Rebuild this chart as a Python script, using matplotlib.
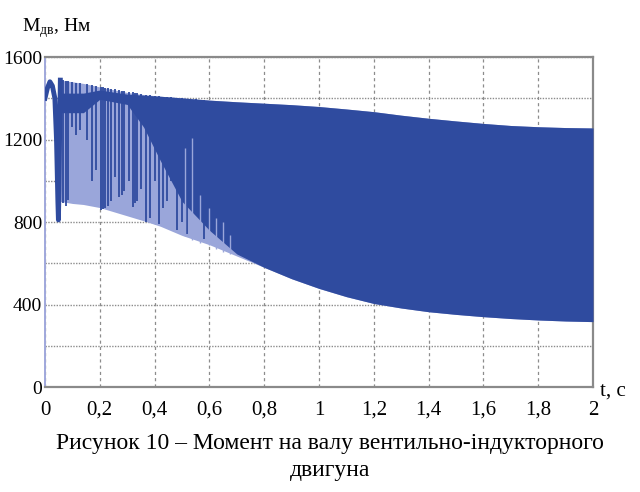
import matplotlib
matplotlib.use("Agg")
import matplotlib.pyplot as plt
from matplotlib.ticker import MultipleLocator, FixedLocator

# Shaft torque of the switched reluctance motor
# time grid for the oscillation band, s
t_env = [0.056, 0.1, 0.14, 0.2, 0.3, 0.36, 0.42, 0.5, 0.6, 0.7, 0.8, 0.9,
         1.0, 1.1, 1.2, 1.3, 1.4, 1.5, 1.6, 1.7, 1.8, 1.9, 2.0]
# outer envelope of the band, N*m
m_upper = [1488, 1480, 1472, 1455, 1428, 1418, 1410, 1402, 1391, 1383, 1376, 1369,
           1360, 1348, 1335, 1318, 1303, 1290, 1278, 1268, 1262, 1258, 1256]
m_lower = [900, 890, 885, 870, 830, 806, 780, 735, 690, 635, 580, 525,
           478, 438, 405, 383, 365, 352, 341, 332, 325, 320, 317]
# edges of the solid (dense) part of the band
m_dense_top = [1425, 1425, 1425, 1440, 1420, 1415, 1410, 1402, 1391, 1383, 1376, 1369,
               1360, 1348, 1335, 1318, 1303, 1290, 1278, 1268, 1262, 1258, 1256]
m_dense_bot = [1330, 1330, 1330, 1395, 1370, 1260, 1100, 900, 760, 645, 580, 525,
               478, 438, 405, 383, 365, 352, 341, 332, 325, 320, 317]

# start-up transient
t_start = [0, 0.009, 0.018, 0.027, 0.036, 0.042, 0.047, 0.049, 0.051, 0.054, 0.056]
m_start = [1400, 1450, 1480, 1460, 1400, 1200, 900, 810, 950, 1300, 1488]

# single deep dips in the sparse part
spike_t = [0.066, 0.076, 0.085, 0.1, 0.112, 0.128, 0.153, 0.17, 0.185,
           0.205, 0.212, 0.22, 0.23, 0.24, 0.255, 0.27, 0.28, 0.29, 0.305,
           0.32, 0.33, 0.335, 0.35, 0.37, 0.385, 0.4, 0.415, 0.43, 0.445,
           0.46, 0.48, 0.5, 0.52, 0.55, 0.58]
spike_min = [892, 880, 906, 1260, 1220, 1246, 1197, 1000, 1050,
             858, 862, 870, 880, 900, 1020, 921, 930, 950, 1000,
             873, 890, 900, 960, 800, 820, 1000, 790, 870, 900,
             1000, 760, 800, 740, 900, 720]
spike_max = [1490, 1485, 1482, 1478, 1476, 1474, 1470, 1465, 1460,
             1455, 1453, 1452, 1450, 1447, 1444, 1440, 1437, 1434, 1430,
             1428, 1425, 1424, 1420, 1416, 1414, 1412, 1410, 1408, 1406,
             1404, 1402, 1400, 1398, 1396, 1393]

# light gaps left inside the dense part
gap_t = [0.51, 0.535, 0.565, 0.6, 0.625, 0.65, 0.675]
gap_top = [1160, 1207, 930, 870, 820, 800, 737]
gap_bot = [730, 715, 700, 690, 670, 655, 645]

x_ticks = [0, 0.2, 0.4, 0.6, 0.8, 1, 1.2, 1.4, 1.6, 1.8, 2]
x_labels = ["0", "0,2", "0,4", "0,6", "0,8", "1", "1,2", "1,4", "1,6", "1,8", "2"]
y_ticks = [0, 400, 800, 1200, 1600]
y_labels = ["0", "400", "800", "1200", "1600"]

dark = "#2f4b9f"
light = "#9aa6da"

plt.rcParams["font.family"] = ["Liberation Serif", "DejaVu Serif"]
plt.rcParams["mathtext.fontset"] = "custom"
plt.rcParams["mathtext.rm"] = "Liberation Serif"

fig = plt.figure(figsize=(6.4, 4.92), dpi=100)
ax = fig.add_axes([0.0703, 0.2134, 0.8563, 0.6707])

ax.fill_between(t_env, m_lower, m_upper, color=light, lw=0, zorder=2)
ax.fill_between(t_env, m_dense_bot, m_dense_top, color=dark, lw=0, zorder=3)
ax.vlines(spike_t, spike_min, spike_max, color=dark, lw=1.3, zorder=4)
ax.vlines(gap_t, gap_bot, gap_top, color=light, lw=1.0, zorder=4)
ax.plot(t_start, m_start, color=dark, lw=3.5, solid_joinstyle="round", zorder=5)

ax.set_xlim(0, 2)
ax.set_ylim(0, 1600)
ax.xaxis.set_major_locator(FixedLocator(x_ticks))
ax.set_xticklabels(x_labels)
ax.yaxis.set_major_locator(FixedLocator(y_ticks))
ax.set_yticklabels(y_labels)
ax.yaxis.set_minor_locator(MultipleLocator(200))

ax.set_axisbelow(True)
ax.grid(True, which="major", axis="x", color="#8c8c8c", lw=0.9, ls=(0, (2.5, 2.5)))
ax.grid(True, which="both", axis="y", color="#8c8c8c", lw=1.0, ls=(0, (1, 1)))

ax.tick_params(which="both", length=0)
ax.tick_params(axis="x", pad=10, labelsize=15)
ax.tick_params(axis="y", pad=2, labelsize=14)

for side in ["top", "right", "bottom"]:
    ax.spines[side].set_color("#8a8a8a")
    ax.spines[side].set_linewidth(1.6)
ax.spines["left"].set_color("#a0a8dc")
ax.spines["left"].set_linewidth(1.4)

fig.text(0.034, 0.935, r"$\mathrm{M}_{\mathrm{дв}}$, Нм", fontsize=14, ha="left", va="baseline")
fig.text(0.937, 0.197, "t, c", fontsize=15, ha="left", va="baseline")

fig.text(0.516, 0.087, "Рисунок 10 – Момент на валу вентильно-індукторного",
         fontsize=17, ha="center", va="baseline")
fig.text(0.516, 0.033, "двигуна", fontsize=17, ha="center", va="baseline")

fig.savefig("out.png", dpi=100)
